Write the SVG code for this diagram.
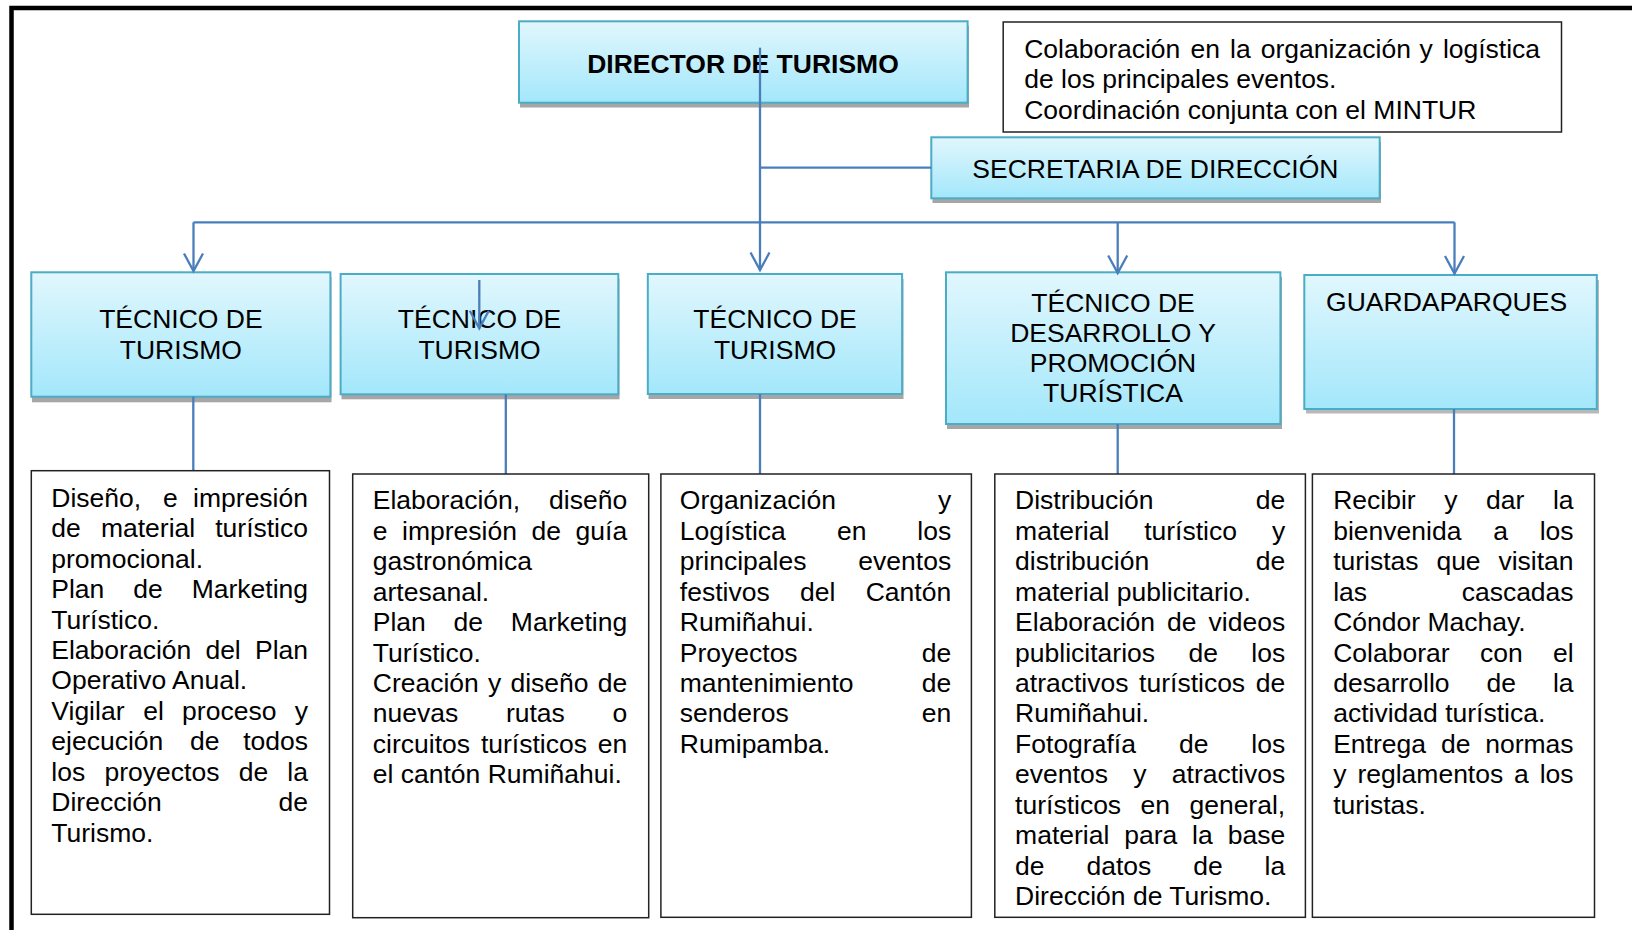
<svg xmlns="http://www.w3.org/2000/svg" width="1632" height="930" viewBox="0 0 1632 930">
<defs>
<linearGradient id="bg" x1="0" y1="0" x2="0" y2="1">
<stop offset="0" stop-color="#e1f7fd"/>
<stop offset="1" stop-color="#a3e7fb"/>
</linearGradient>
<marker id="arr" markerUnits="userSpaceOnUse" orient="auto" overflow="visible" markerWidth="1" markerHeight="1" refX="0" refY="0">
<path d="M-17.5,-9.5 L0,0 L-17.5,9.5" fill="none" stroke="#4a7ebb" stroke-width="2.3"/>
</marker>
<style>
.bx{fill:url(#bg);stroke:#4bacc6;stroke-width:2}
.sh{fill:#a6a6a6}
.tb{fill:#fff;stroke:#222;stroke-width:1.5}
text{font-family:"Liberation Sans",Arial,sans-serif;font-size:26.5px;fill:#000}
.c{text-anchor:middle}
.e{text-anchor:end}
.b{font-weight:bold}
.ln{fill:none;stroke:#4a7ebb;stroke-width:2.3}
</style>
</defs>
<rect width="1632" height="930" fill="#fff"/>
<path d="M11.5,930 V8 H1632" fill="none" stroke="#000" stroke-width="4.5"/>

<g id="director">
<rect class="sh" x="520" y="26" width="449" height="81.5"/>
<rect class="bx" x="519" y="21.3" width="448.6" height="81.4"/>
<text class="c b" x="743" y="72.7">DIRECTOR DE TURISMO</text>
</g>

<g id="colaboracion">
<rect class="tb" x="1003.2" y="22" width="558.3" height="110"/>
<text y="57.7"><tspan x="1024.2">Colaboración</tspan><tspan x="1190.4">en</tspan><tspan x="1230">la</tspan><tspan x="1260.7">organización</tspan><tspan x="1419.5">y</tspan><tspan x="1540.1" class="e">logística</tspan></text>
<text x="1024.2" y="88">de los principales eventos.</text>
<text x="1024.2" y="118.5">Coordinación conjunta con el MINTUR</text>
</g>

<g id="secretaria">
<rect class="sh" x="932.5" y="142" width="448.5" height="61"/>
<rect class="bx" x="931.3" y="137.3" width="448.4" height="61"/>
<text class="c" x="1155.4" y="178.3">SECRETARIA DE DIRECCIÓN</text>
</g>

<g id="tecnico1">
<rect class="sh" x="32" y="277" width="299.5" height="125.3"/>
<rect class="bx" x="31.3" y="272.3" width="299.1" height="124.4"/>
<text class="c" x="180.9" y="328.3">TÉCNICO DE</text>
<text class="c" x="180.9" y="359">TURISMO</text>
</g>

<g id="tecnico2">
<rect class="sh" x="341.5" y="279" width="278" height="120.3"/>
<rect class="bx" x="340.6" y="274" width="277.7" height="120.3"/>
<text class="c" x="479.5" y="328.3">TÉCNICO DE</text>
<text class="c" x="479.5" y="359">TURISMO</text>
</g>

<g id="tecnico3">
<rect class="sh" x="648.5" y="279" width="255" height="120"/>
<rect class="bx" x="647.8" y="274" width="254.3" height="120"/>
<text class="c" x="775" y="327.7">TÉCNICO DE</text>
<text class="c" x="775" y="359">TURISMO</text>
</g>

<g id="tecnico-desarrollo">
<rect class="sh" x="947" y="277" width="335" height="152"/>
<rect class="bx" x="946" y="272.3" width="334.4" height="151.7"/>
<text class="c" x="1113" y="311.7">TÉCNICO DE</text>
<text class="c" x="1113" y="341.7">DESARROLLO Y</text>
<text class="c" x="1113" y="372.3">PROMOCIÓN</text>
<text class="c" x="1113" y="402.3">TURÍSTICA</text>
</g>

<g id="guardaparques">
<rect class="sh" x="1306" y="280" width="293" height="133.5" opacity="0.8"/>
<rect class="bx" x="1304.3" y="275" width="292.5" height="134"/>
<text class="c" x="1446.6" y="311">GUARDAPARQUES</text>
</g>

<g id="connectors">
<path class="ln" d="M760,47.7 V270" marker-end="url(#arr)"/>
<path class="ln" d="M760,167.7 H931.3"/>
<path class="ln" d="M193.5,222.3 H1454.5"/>
<path class="ln" d="M193.5,222.3 V271" marker-end="url(#arr)"/>
<path class="ln" d="M1117.7,222.3 V273" marker-end="url(#arr)"/>
<path class="ln" d="M1454.5,222.3 V273.5" marker-end="url(#arr)"/>
<path class="ln" d="M479.3,280 V328.3" marker-end="url(#arr)"/>
<path class="ln" d="M193.3,396.7 V470.7"/>
<path class="ln" d="M505.8,394.3 V474"/>
<path class="ln" d="M760,394 V474"/>
<path class="ln" d="M1117.7,424 V474"/>
<path class="ln" d="M1454,409 V474"/>
</g>

<g id="funciones1">
<rect class="tb" x="31.3" y="470.7" width="298.2" height="443.6"/>
<text y="506.7"><tspan x="51.3">Diseño,</tspan><tspan x="163">e</tspan><tspan x="308" class="e">impresión</tspan></text>
<text y="537.15"><tspan x="51.3">de</tspan><tspan x="100.9">material</tspan><tspan x="308" class="e">turístico</tspan></text>
<text x="51.3" y="567.6">promocional.</text>
<text y="598.05"><tspan x="51.3">Plan</tspan><tspan x="133.3">de</tspan><tspan x="308" class="e">Marketing</tspan></text>
<text x="51.3" y="628.5">Turístico.</text>
<text y="658.95"><tspan x="51.3">Elaboración</tspan><tspan x="205.4">del</tspan><tspan x="308" class="e">Plan</tspan></text>
<text x="51.3" y="689.4">Operativo Anual.</text>
<text y="719.85"><tspan x="51.3">Vigilar</tspan><tspan x="143.2">el</tspan><tspan x="182.1">proceso</tspan><tspan x="308" class="e">y</tspan></text>
<text y="750.3"><tspan x="51.3">ejecución</tspan><tspan x="190">de</tspan><tspan x="308" class="e">todos</tspan></text>
<text y="780.75"><tspan x="51.3">los</tspan><tspan x="104.5">proyectos</tspan><tspan x="238.7">de</tspan><tspan x="308" class="e">la</tspan></text>
<text y="811.2"><tspan x="51.3">Dirección</tspan><tspan x="308" class="e">de</tspan></text>
<text x="51.3" y="841.65">Turismo.</text>
</g>

<g id="funciones2">
<rect class="tb" x="352.7" y="474" width="296" height="443.7"/>
<text y="509.3"><tspan x="372.8">Elaboración,</tspan><tspan x="627.2" class="e">diseño</tspan></text>
<text y="539.75"><tspan x="372.8">e</tspan><tspan x="402.1">impresión</tspan><tspan x="531.6">de</tspan><tspan x="627.2" class="e">guía</tspan></text>
<text x="372.8" y="570.2">gastronómica</text>
<text x="372.8" y="600.65">artesanal.</text>
<text y="631.1"><tspan x="372.8">Plan</tspan><tspan x="453.6">de</tspan><tspan x="627.2" class="e">Marketing</tspan></text>
<text x="372.8" y="661.55">Turístico.</text>
<text y="692"><tspan x="372.8">Creación</tspan><tspan x="488">y</tspan><tspan x="510.4">diseño</tspan><tspan x="627.2" class="e">de</tspan></text>
<text y="722.45"><tspan x="372.8">nuevas</tspan><tspan x="505.9">rutas</tspan><tspan x="627.2" class="e">o</tspan></text>
<text y="752.9"><tspan x="372.8">circuitos</tspan><tspan x="480.9">turísticos</tspan><tspan x="627.2" class="e">en</tspan></text>
<text x="372.8" y="783.35">el cantón Rumiñahui.</text>
</g>

<g id="funciones3">
<rect class="tb" x="660.9" y="474" width="310.5" height="443.3"/>
<text y="509.3"><tspan x="679.8">Organización</tspan><tspan x="951.2" class="e">y</tspan></text>
<text y="539.75"><tspan x="679.8">Logística</tspan><tspan x="836.9">en</tspan><tspan x="951.2" class="e">los</tspan></text>
<text y="570.2"><tspan x="679.8">principales</tspan><tspan x="951.2" class="e">eventos</tspan></text>
<text y="600.65"><tspan x="679.8">festivos</tspan><tspan x="800">del</tspan><tspan x="951.2" class="e">Cantón</tspan></text>
<text x="679.8" y="631.1">Rumiñahui.</text>
<text y="661.55"><tspan x="679.8">Proyectos</tspan><tspan x="951.2" class="e">de</tspan></text>
<text y="692"><tspan x="679.8">mantenimiento</tspan><tspan x="951.2" class="e">de</tspan></text>
<text y="722.45"><tspan x="679.8">senderos</tspan><tspan x="951.2" class="e">en</tspan></text>
<text x="679.8" y="752.9">Rumipamba.</text>
</g>

<g id="funciones4">
<rect class="tb" x="994.8" y="474" width="310.6" height="443.3"/>
<text y="509.3"><tspan x="1015.1">Distribución</tspan><tspan x="1285.2" class="e">de</tspan></text>
<text y="539.75"><tspan x="1015.1">material</tspan><tspan x="1144.2">turístico</tspan><tspan x="1285.2" class="e">y</tspan></text>
<text y="570.2"><tspan x="1015.1">distribución</tspan><tspan x="1285.2" class="e">de</tspan></text>
<text x="1015.1" y="600.65">material publicitario.</text>
<text y="631.1"><tspan x="1015.1">Elaboración</tspan><tspan x="1167">de</tspan><tspan x="1285.2" class="e">videos</tspan></text>
<text y="661.55"><tspan x="1015.1">publicitarios</tspan><tspan x="1188.4">de</tspan><tspan x="1285.2" class="e">los</tspan></text>
<text y="692"><tspan x="1015.1">atractivos</tspan><tspan x="1139.1">turísticos</tspan><tspan x="1285.2" class="e">de</tspan></text>
<text x="1015.1" y="722.45">Rumiñahui.</text>
<text y="752.9"><tspan x="1015.1">Fotografía</tspan><tspan x="1178.9">de</tspan><tspan x="1285.2" class="e">los</tspan></text>
<text y="783.35"><tspan x="1015.1">eventos</tspan><tspan x="1133.2">y</tspan><tspan x="1285.2" class="e">atractivos</tspan></text>
<text y="813.8"><tspan x="1015.1">turísticos</tspan><tspan x="1140.6">en</tspan><tspan x="1285.2" class="e">general,</tspan></text>
<text y="844.25"><tspan x="1015.1">material</tspan><tspan x="1124.2">para</tspan><tspan x="1192.1">la</tspan><tspan x="1285.2" class="e">base</tspan></text>
<text y="874.7"><tspan x="1015.1">de</tspan><tspan x="1086.5">datos</tspan><tspan x="1193.2">de</tspan><tspan x="1285.2" class="e">la</tspan></text>
<text x="1015.1" y="905.15">Dirección de Turismo.</text>
</g>

<g id="funciones5">
<rect class="tb" x="1312.4" y="474" width="282.1" height="443.3"/>
<text y="509.3"><tspan x="1333.2">Recibir</tspan><tspan x="1444.2">y</tspan><tspan x="1486">dar</tspan><tspan x="1573.6" class="e">la</tspan></text>
<text y="539.75"><tspan x="1333.2">bienvenida</tspan><tspan x="1493.2">a</tspan><tspan x="1573.6" class="e">los</tspan></text>
<text y="570.2"><tspan x="1333.2">turistas</tspan><tspan x="1436.4">que</tspan><tspan x="1573.6" class="e">visitan</tspan></text>
<text y="600.65"><tspan x="1333.2">las</tspan><tspan x="1573.6" class="e">cascadas</tspan></text>
<text x="1333.2" y="631.1">Cóndor Machay.</text>
<text y="661.55"><tspan x="1333.2">Colaborar</tspan><tspan x="1479.9">con</tspan><tspan x="1573.6" class="e">el</tspan></text>
<text y="692"><tspan x="1333.2">desarrollo</tspan><tspan x="1486.5">de</tspan><tspan x="1573.6" class="e">la</tspan></text>
<text x="1333.2" y="722.45">actividad turística.</text>
<text y="752.9"><tspan x="1333.2">Entrega</tspan><tspan x="1440.9">de</tspan><tspan x="1573.6" class="e">normas</tspan></text>
<text y="783.35"><tspan x="1333.2">y</tspan><tspan x="1357.4">reglamentos</tspan><tspan x="1514">a</tspan><tspan x="1573.6" class="e">los</tspan></text>
<text x="1333.2" y="813.8">turistas.</text>
</g>
</svg>
